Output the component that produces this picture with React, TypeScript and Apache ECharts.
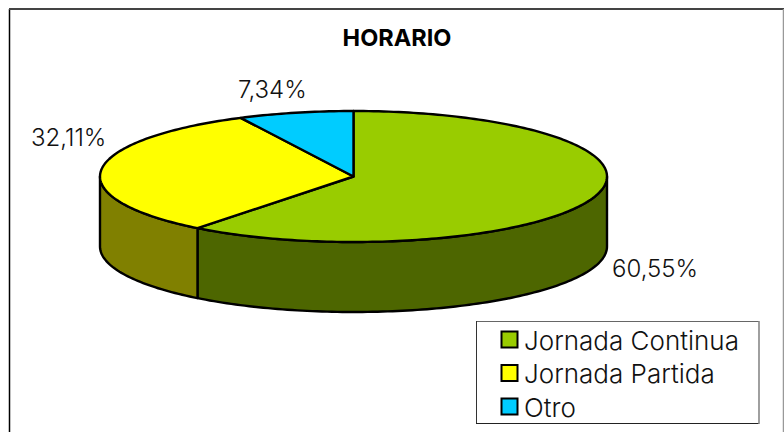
import React, { useEffect, useRef } from "react";
import * as echarts from "echarts";

const categories = ["Jornada Continua", "Jornada Partida", "Otro"];
const values = [60.55, 32.11, 7.34];
const valueLabels = ["60,55%", "32,11%", "7,34%"];
const topColors = ["#99cc00", "#ffff00", "#00ccff"];
const sideColors = ["#4d6600", "#808000", "#006680"];
const titleText = "HORARIO";

const FONT = "Inter";
const CX = 353.5, CY = 176.5, RX = 253.5, RY = 65.5, DEPTH = 70;

function pt(t: number, dy = 0): [number, number] {
  return [CX + RX * Math.sin(t), CY - RY * Math.cos(t) + dy];
}
function arcPts(a: number, b: number, dy = 0): [number, number][] {
  const n = Math.max(2, Math.ceil(Math.abs(b - a) / 0.02));
  const out: [number, number][] = [];
  for (let i = 0; i <= n; i++) out.push(pt(a + ((b - a) * i) / n, dy));
  return out;
}
function edge(x1: number, y1: number, x2: number, y2: number, color: string, w: number, z: number) {
  return { type: "line", silent: true, z, shape: { x1, y1, x2, y2 }, style: { stroke: color, lineWidth: w } };
}

export default function App() {
  const ref = useRef<HTMLDivElement>(null);
  useEffect(() => {
    const chart = echarts.init(ref.current!, null, { renderer: "svg" });
    const total = values.reduce((s, v) => s + v, 0);
    const spans: { a: number; b: number }[] = [];
    let acc = 0;
    values.forEach((v) => {
      const a = (acc / total) * Math.PI * 2;
      acc += v;
      spans.push({ a, b: (acc / total) * Math.PI * 2 });
    });
    const stroke = { stroke: "#000", lineWidth: 2.4, lineJoin: "round" };
    const data = values.map((v, i) => ({ value: v, name: categories[i] }));
    const legendFont = `300 26px ${FONT}`;
    const valueFont = `300 24px ${FONT}`;
    chart.setOption({
      animation: false,
      backgroundColor: "#fff",
      title: {
        text: titleText, left: 392, top: 20, textAlign: "center",
        textStyle: { fontFamily: FONT, fontWeight: 700, fontSize: 23.5, color: "#000" },
      },
      graphic: [
        edge(9.5, 9, 9.5, 432, "#000", 1.5, 1),
        edge(9, 9, 784, 9, "#444", 2, 1),
        edge(783.5, 9, 783.5, 432, "#999", 1.5, 1),
        { type: "rect", silent: true, z: 1, shape: { x: 476.5, y: 321.5, width: 283, height: 102 }, style: { fill: "#fff", stroke: "none" } },
        edge(476.5, 321.5, 759, 321.5, "#666", 1, 2),
        edge(476.5, 321, 476.5, 424, "#333", 1, 2),
        edge(476, 423.5, 759, 423.5, "#222", 1.2, 2),
        edge(759, 321, 759, 424, "#888", 1.6, 2),
        ...categories.map((c, i) => ({
          type: "rect", silent: true, z: 2,
          shape: { x: 501.5, y: 331.5 + i * 33.5, width: 16, height: 16 },
          style: { fill: topColors[i], stroke: "#000", lineWidth: 2 },
        })),
        ...categories.map((c, i) => ({
          type: "text", silent: true, z: 2, x: 524, y: 340 + i * 33.5,
          style: { text: c, font: legendFont, fill: "#111", textVerticalAlign: "middle" },
        })),
        { type: "text", silent: true, z: 3, x: 612, y: 268.5, style: { text: valueLabels[0], font: valueFont, fill: "#111", textVerticalAlign: "middle" } },
        { type: "text", silent: true, z: 3, x: 31, y: 137, style: { text: valueLabels[1], font: valueFont, fill: "#111", textVerticalAlign: "middle" } },
        { type: "text", silent: true, z: 3, x: 238, y: 89, style: { text: valueLabels[2], font: valueFont, fill: "#111", textVerticalAlign: "middle" } },
      ],
      series: [
        {
          type: "custom",
          coordinateSystem: "none",
          data,
          renderItem: (params: any, api: any) => {
            const i = params.dataIndex;
            const { a, b } = spans[i];
            const children: any[] = [];
            const sa = Math.max(a, Math.PI / 2), sb = Math.min(b, (3 * Math.PI) / 2);
            if (sb > sa) {
              const pts = [...arcPts(sa, sb, 0), ...arcPts(sb, sa, DEPTH)];
              children.push({ type: "polygon", z2: 1, shape: { points: pts }, style: { fill: sideColors[i], ...stroke } });
            }
            const top = [[CX, CY], ...arcPts(a, b, 0)];
            children.push({ type: "polygon", z2: 2, shape: { points: top }, style: { fill: topColors[i], ...stroke } });
            return { type: "group", children };
          },
        },
      ],
    });
    return () => chart.dispose();
  }, []);
  return <div ref={ref} style={{ position: "fixed", left: 0, top: 0, width: 784, height: 432 }} />;
}
